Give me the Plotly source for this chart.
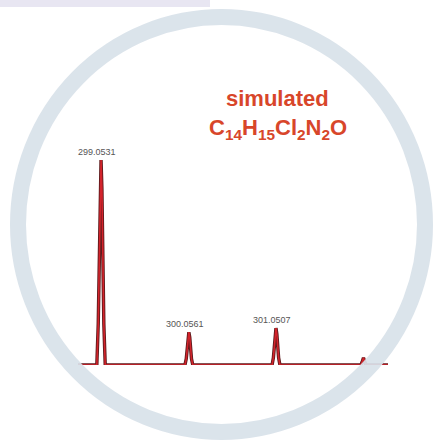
import plotly.graph_objects as go

# spectrum profile (m/z, relative intensity)
mz = [298.79, 299.005, 299.021, 299.032, 299.043, 299.0531, 299.063, 299.074, 299.085, 299.101,
      300.011, 300.026, 300.036, 300.046, 300.0561, 300.066, 300.076, 300.086, 300.101,
      301.006, 301.021, 301.031, 301.041, 301.0507, 301.061, 301.071, 301.081, 301.096,
      302.00, 302.02, 302.035, 302.05, 302.065, 302.08, 302.10, 302.33]
intensity = [0, 0, 20, 52, 86, 100, 86, 52, 20, 0,
             0, 3, 8, 13.5, 16, 13.5, 8, 3, 0,
             0, 3.5, 9, 15, 18, 15, 9, 3.5, 0,
             0, 0, 1.5, 3.5, 1.5, 0, 0, 0]

peak_mz = [299.0531, 300.0561, 301.0507]
peak_int = [100, 16, 18]
peak_labels = ["299.0531", "300.0561", "301.0507"]

W, H = 433, 440

def px(x):
    return x / W

def py(y):
    return 1 - y / H

fig = go.Figure()
fig.add_trace(go.Scatter(x=mz, y=intensity, mode="lines",
                         line=dict(color="#5e1a1c", width=3.4), hoverinfo="skip"))
fig.add_trace(go.Scatter(x=mz, y=intensity, mode="lines",
                         line=dict(color="#d3232b", width=1.6), hoverinfo="skip"))

for x, y, t in zip(peak_mz, peak_int, peak_labels):
    fig.add_annotation(x=x, y=y, text=t, showarrow=False, xref="x", yref="y",
                       yanchor="bottom", yshift=1, xshift=-4,
                       font=dict(family="Liberation Sans, Arial", size=9, color="#555555"),
                       bgcolor="rgba(255,255,255,0.85)")

fig.add_annotation(x=px(277), y=py(84), xref="paper", yref="paper", showarrow=False,
                   text="<b>simulated</b>",
                   font=dict(family="Liberation Sans, Arial", size=22, color="#d8462a"))
fig.add_annotation(x=px(278), y=py(113), xref="paper", yref="paper", showarrow=False,
                   text="<b>C<sub>14</sub>H<sub>15</sub>Cl<sub>2</sub>N<sub>2</sub>O</b>",
                   font=dict(family="Liberation Sans, Arial", size=22, color="#d8462a"))

fig.add_shape(type="circle", xref="paper", yref="paper", layer="above", opacity=0.92,
              x0=px(18), x1=px(425), y0=py(432), y1=py(17),
              line=dict(color="#d9e2ea", width=16))
fig.add_shape(type="rect", xref="paper", yref="paper", layer="below",
              x0=0, x1=px(210), y0=py(7), y1=1,
              line=dict(width=0), fillcolor="#e8e6f2")

fig.update_layout(
    width=W, height=H, margin=dict(l=0, r=0, t=0, b=0),
    paper_bgcolor="white", plot_bgcolor="rgba(0,0,0,0)", showlegend=False,
    xaxis=dict(domain=[px(78), px(388)], range=[298.79, 302.33], visible=False, fixedrange=True),
    yaxis=dict(domain=[py(365), py(160)], range=[0, 100], visible=False, fixedrange=True),
)

fig.write_html("out.html", config={"displayModeBar": False},
               post_script="document.body.style.margin='0';document.body.style.padding='0';")
